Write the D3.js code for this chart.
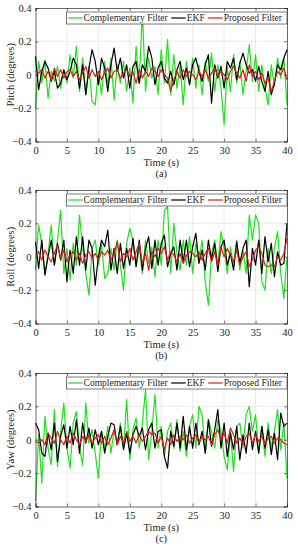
<!DOCTYPE html>
<html>
<head>
  <meta charset="utf-8">
  <style>
  body { margin: 0; background: #fff; }
  svg text { font-family: "Liberation Serif", "Times New Roman", serif; fill: #262626; }
  .grid line { stroke: #dedede; stroke-width: 0.6; }
  </style>
</head>
<body>
  <div id="chart"></div>
  <script src="https://d3js.org/d3.v7.min.js"></script>
  <script>
    // time samples every 0.5 s
    var time = d3.range(0, 40.01, 0.5);
    var seriesNames = ["Complementary Filter", "EKF", "Proposed Filter"];
    var seriesColors = ["#1fe01f", "#000000", "#e3171a"];
    var yTicks = [-0.4, -0.2, 0, 0.2, 0.4];
    var xTicks = [0, 5, 10, 15, 20, 25, 30, 35, 40];
    var panelTitles = ["Pitch (degrees)", "Roll (degrees)", "Yaw (degrees)"];
    var panelLabels = ["(a)", "(b)", "(c)"];

    var pitchComp = [-0.2,0.08,-0.05,0.09,-0.14,0.02,-0.04,0.05,-0.08,0.03,-0.05,0.12,-0.02,0.17,-0.1,0.1,-0.12,0.05,-0.16,-0.18,
      0.02,-0.12,0.08,-0.06,0.1,-0.15,0.06,-0.05,0.08,-0.1,0.04,-0.17,0.17,-0.05,0.38,-0.1,0.1,-0.02,0.05,-0.12,
      0.15,-0.05,0.21,-0.12,0.12,-0.08,0.05,-0.18,0.08,-0.06,0.1,-0.08,0.06,-0.12,0.08,-0.04,0.13,-0.1,0.06,-0.08,
      -0.3,0.05,-0.1,0.12,-0.05,0.08,-0.12,0.02,0.18,-0.04,0.12,-0.1,0.06,-0.08,-0.18,0.06,-0.07,0.1,-0.02,0.1,-0.18];
    var pitchEkf = [0.11,-0.09,0.02,0.08,0.04,-0.04,0.02,-0.08,-0.05,0.03,-0.03,0.02,0.1,0.06,-0.08,0.06,-0.12,0.04,0.15,0.08,
      -0.06,0.1,0.04,-0.1,0.06,0.16,0.02,0.1,-0.02,0.06,-0.08,0.05,0.08,-0.05,0.06,0.02,0.17,0.1,-0.06,0.04,
      0.08,-0.02,-0.05,0.02,-0.06,0.03,0.08,-0.03,0.04,-0.06,0.06,0.1,0.02,-0.04,0.06,0.12,-0.17,0.06,-0.02,0.05,
      -0.08,0.08,0.04,0.1,-0.03,0.07,0.13,0.06,0.01,0.03,-0.04,0.05,-0.04,-0.1,0.02,-0.12,-0.05,0.06,0.03,0.1,0.15];
    var pitchProp = [0.02,0.01,0.03,-0.02,0.02,-0.03,0.04,-0.01,0.03,-0.02,0.02,0.03,-0.01,0.02,-0.03,0.01,0.05,-0.02,0.03,-0.01,
      0.02,-0.03,0.01,0.04,-0.02,0.02,0.03,-0.02,0.01,0.03,-0.01,0.02,-0.05,0.03,-0.02,0.02,-0.01,0.04,0.02,-0.01,
      0.03,0.0,-0.02,-0.1,-0.03,0.02,-0.02,0.03,-0.01,0.02,0.0,-0.03,0.02,-0.01,0.03,-0.02,0.01,0.04,-0.01,0.02,
      0.0,-0.03,0.02,0.05,0.01,-0.02,0.03,-0.04,0.06,-0.01,0.02,-0.03,0.01,-0.05,-0.02,-0.1,-0.04,0.02,0.0,0.04,-0.03];

    var rollComp = [-0.08,0.19,0.08,-0.1,0.02,0.19,-0.05,0.1,0.28,-0.1,0.05,-0.14,0.08,-0.05,0.25,0.05,-0.1,-0.23,0.05,0.1,
      -0.05,0.08,-0.13,-0.1,0.05,-0.08,0.1,-0.05,-0.2,0.08,0.17,0.1,-0.06,0.05,-0.1,0.1,-0.04,0.06,-0.12,0.1,
      -0.05,0.28,0.3,-0.1,0.2,0.02,-0.08,0.1,-0.05,0.12,-0.1,0.08,-0.03,0.1,-0.15,-0.29,0.02,0.1,-0.05,0.15,
      0.05,-0.1,0.06,-0.05,0.1,-0.08,0.04,-0.1,0.25,0.1,0.25,0.2,-0.15,-0.2,0.05,-0.1,0.05,0.15,-0.1,-0.25,0.0];
    var rollEkf = [0.09,-0.07,0.1,-0.11,0.0,0.1,-0.05,0.08,-0.02,0.1,-0.15,0.04,-0.1,0.12,-0.05,0.12,-0.08,0.1,0.05,-0.17,
      0.0,0.1,0.06,0.16,-0.08,0.05,-0.1,0.08,-0.07,0.05,-0.05,0.11,-0.06,0.1,-0.08,0.05,0.12,-0.07,0.1,-0.05,
      0.08,0.13,-0.06,0.02,0.06,-0.08,0.1,-0.03,0.1,-0.06,0.06,0.14,-0.04,0.04,-0.08,0.1,-0.02,0.08,-0.09,0.06,
      0.1,-0.05,0.02,-0.08,0.09,-0.04,0.05,0.1,-0.18,0.05,-0.05,0.1,-0.1,0.12,-0.03,0.08,-0.12,0.03,-0.05,-0.04,0.2];
    var rollProp = [0.01,0.03,-0.02,0.04,0.0,-0.03,0.02,0.07,-0.01,0.04,-0.03,0.01,0.03,-0.02,0.02,-0.04,0.01,0.03,-0.01,0.02,
      -0.02,0.03,0.01,0.04,-0.02,0.02,0.09,-0.03,0.02,0.0,0.05,-0.02,0.03,0.08,-0.04,0.02,-0.08,0.03,0.0,0.05,
      0.02,0.06,-0.02,0.03,0.01,-0.03,0.02,-0.04,0.01,0.03,0.02,0.0,0.03,-0.02,0.02,0.05,-0.03,0.03,-0.05,0.06,
      0.0,0.05,0.01,-0.03,0.04,-0.05,0.0,0.03,-0.06,-0.02,0.04,0.06,0.02,-0.05,-0.06,-0.05,-0.06,0.0,-0.02,0.02,0.11];

    var yawComp = [-0.37,0.03,-0.26,0.14,-0.05,-0.15,0.18,-0.16,0.05,0.22,-0.05,-0.17,0.1,0.17,-0.05,-0.15,0.22,-0.02,0.06,-0.08,
      -0.23,0.05,-0.05,0.08,-0.08,0.06,-0.03,0.1,-0.05,0.24,-0.12,0.06,0.13,-0.05,0.1,0.3,-0.12,0.05,0.27,-0.05,
      0.08,-0.1,0.05,0.1,-0.05,0.12,-0.07,0.05,-0.1,0.08,0.15,-0.05,0.2,0.15,-0.08,0.12,0.05,-0.05,0.12,0.05,
      -0.1,-0.18,0.05,-0.19,0.08,0.1,-0.05,0.15,0.2,0.05,0.15,-0.08,0.08,-0.1,0.1,-0.05,0.05,0.18,-0.06,0.1,-0.23];
    var yawEkf = [0.1,0.06,-0.08,-0.1,0.04,-0.06,0.1,-0.13,0.02,0.09,-0.05,0.08,-0.03,0.12,-0.08,0.1,-0.02,0.07,-0.05,0.06,
      -0.03,0.05,-0.08,0.02,0.1,0.09,-0.03,0.08,-0.06,0.04,-0.08,0.03,0.08,0.02,0.07,-0.06,0.06,0.1,-0.05,0.05,
      0.06,-0.1,-0.17,0.05,-0.04,0.1,-0.05,0.14,-0.06,0.08,-0.05,0.1,-0.03,0.05,-0.08,0.12,-0.04,0.06,0.18,-0.05,
      0.1,-0.1,0.04,-0.06,0.08,-0.12,0.03,-0.08,0.1,-0.06,0.05,-0.08,0.08,-0.05,0.06,-0.09,0.04,-0.12,0.16,0.08,0.1];
    var yawProp = [-0.01,-0.02,0.0,-0.03,0.04,0.01,-0.02,0.05,0.0,-0.03,0.02,-0.02,0.04,0.0,-0.03,0.02,-0.01,0.03,-0.02,0.01,
      0.03,-0.02,0.02,-0.03,0.01,0.06,-0.03,0.02,-0.02,0.05,-0.01,0.02,-0.02,0.03,-0.01,0.02,0.05,0.03,0.04,-0.02,
      0.02,-0.06,0.01,-0.03,0.03,-0.01,0.02,0.0,0.03,-0.02,0.01,0.03,-0.02,0.02,0.0,0.02,-0.03,0.03,0.06,0.0,
      0.04,-0.02,0.07,0.03,-0.02,0.01,-0.03,0.02,0.04,-0.02,0.03,-0.01,0.02,-0.03,0.01,0.02,-0.02,0.01,0.0,-0.02,-0.03];

    var panels = [
      [pitchComp, pitchEkf, pitchProp],
      [rollComp, rollEkf, rollProp],
      [yawComp, yawEkf, yawProp]
    ];

    var width = 298, height = 550;
    var left = 35.5, right = 287;
    var plotH = 133.5;
    var panelTops = [8, 190, 373];
    var serif = "'Liberation Serif', 'Times New Roman', serif";

    var svg = d3.select("#chart").append("svg")
        .attr("width", width)
        .attr("height", height);

    var x = d3.scaleLinear().domain([0, 40]).range([left, right]);

    panels.forEach(function(series, p) {
      var top = panelTops[p];
      var y = d3.scaleLinear().domain([-0.4, 0.4]).range([top + plotH, top]);
      var g = svg.append("g");

      // grid
      var grid = g.append("g").attr("class", "grid");
      grid.selectAll(".gx").data(xTicks.slice(1, -1)).enter().append("line")
          .attr("x1", function(d) { return x(d); }).attr("x2", function(d) { return x(d); })
          .attr("y1", top).attr("y2", top + plotH);
      grid.selectAll(".gy").data(yTicks.slice(1, -1)).enter().append("line")
          .attr("x1", left).attr("x2", right)
          .attr("y1", function(d) { return y(d); }).attr("y2", function(d) { return y(d); });

      // lines
      var line = d3.line()
          .x(function(d, i) { return x(time[i]); })
          .y(function(d) { return y(d); });
      series.forEach(function(vals, s) {
        g.append("path")
            .datum(vals)
            .attr("fill", "none")
            .attr("stroke", seriesColors[s])
            .attr("stroke-width", 1.2)
            .attr("stroke-linejoin", "round")
            .attr("d", line);
      });

      // axes
      g.append("g")
          .attr("transform", "translate(0," + (top + plotH) + ")")
          .call(d3.axisBottom(x).tickValues(xTicks).tickSize(-3).tickPadding(5).tickFormat(d3.format("d")));
      g.append("g")
          .attr("transform", "translate(" + left + ",0)")
          .call(d3.axisLeft(y).tickValues(yTicks).tickSize(-3).tickPadding(4)
            .tickFormat(function(d) { return d === 0 ? "0" : d3.format(".1f")(d); }));
      g.append("g")
          .attr("transform", "translate(0," + top + ")")
          .call(d3.axisTop(x).tickValues(xTicks).tickSize(-3).tickFormat(""));
      g.append("g")
          .attr("transform", "translate(" + right + ",0)")
          .call(d3.axisRight(y).tickValues(yTicks).tickSize(-3).tickFormat(""));
      g.selectAll(".domain").attr("stroke", "#262626").attr("stroke-width", 0.7);
      g.selectAll(".tick line").attr("stroke", "#262626").attr("stroke-width", 0.6);
      g.selectAll(".tick text")
          .style("font-family", serif)
          .style("font-size", "10.5px")
          .attr("fill", "#262626");

      // labels
      g.append("text")
          .attr("transform", "translate(10," + (top + plotH / 2) + ") rotate(-90)")
          .attr("text-anchor", "middle")
          .attr("dy", "0.35em")
          .style("font-family", serif)
          .style("font-size", "10.5px")
          .text(panelTitles[p]);
      g.append("text")
          .attr("x", (left + right) / 2)
          .attr("y", top + plotH + 24)
          .attr("text-anchor", "middle")
          .style("font-family", serif)
          .style("font-size", "10.5px")
          .text("Time (s)");
      g.append("text")
          .attr("x", (left + right) / 2)
          .attr("y", top + plotH + 35.5)
          .attr("text-anchor", "middle")
          .style("font-family", serif)
          .style("font-size", "10.5px")
          .text(panelLabels[p]);

      // legend
      var lg = g.append("g");
      var box = lg.append("rect")
          .attr("fill", "#fff")
          .attr("stroke", "#262626")
          .attr("stroke-width", 0.6);
      var cx = 0;
      seriesNames.forEach(function(name, s) {
        lg.append("line")
            .attr("x1", cx + 1.5).attr("x2", cx + 16)
            .attr("y1", 0).attr("y2", 0)
            .attr("stroke", seriesColors[s])
            .attr("stroke-width", 1.2);
        var t = lg.append("text")
            .attr("x", cx + 17)
            .attr("y", 0)
            .attr("dy", "0.35em")
            .style("font-family", serif)
            .style("font-size", "9.5px")
            .text(name);
        cx += 17 + t.node().getComputedTextLength() + 2;
      });
      var legW = cx + 3;
      var legX = right - legW;
      lg.attr("transform", "translate(" + legX + "," + (top + 10) + ")");
      box.attr("x", 0).attr("y", -6).attr("width", legW).attr("height", 12);
    });
  </script>
</body>
</html>
